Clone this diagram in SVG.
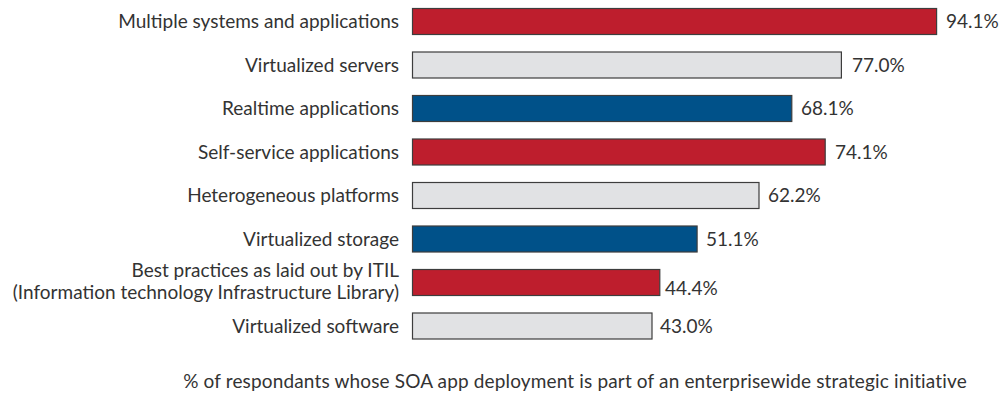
<svg xmlns="http://www.w3.org/2000/svg" width="1000" height="398" viewBox="0 0 1000 398">
  <style>
    text { font-family: Lato, "Open Sans", "Liberation Sans", sans-serif; font-size: 19px; fill: #333333; }
    .cat { text-anchor: end; }
    .val { text-anchor: start; }
    .bar { stroke: #3d3d3d; stroke-width: 1.2; }
    .red { fill: #be1e2d; }
    .gray { fill: #e1e2e4; }
    .blue { fill: #005189; }
    .caption { text-anchor: middle; letter-spacing: 0.15px; }
  </style>
  <rect width="1000" height="398" fill="#ffffff"/>

  <!-- bars: x starts at 412.5, 5.57 px per percent, 43.5 px pitch -->
  <g id="row-multiple-systems">
    <text class="cat" x="399" y="28">Multiple systems and applications</text>
    <rect class="bar red" x="412.5" y="8.5" width="524.1" height="26"/>
    <text class="val" x="946" y="28">94.1%</text>
  </g>
  <g id="row-virtualized-servers">
    <text class="cat" x="399" y="71.5">Virtualized servers</text>
    <rect class="bar gray" x="412.5" y="52" width="428.9" height="26"/>
    <text class="val" x="852" y="71.5">77.0%</text>
  </g>
  <g id="row-realtime">
    <text class="cat" x="399" y="115">Realtime applications</text>
    <rect class="bar blue" x="412.5" y="95.5" width="379.3" height="26"/>
    <text class="val" x="801" y="115">68.1%</text>
  </g>
  <g id="row-self-service">
    <text class="cat" x="399" y="158.5">Self-service applications</text>
    <rect class="bar red" x="412.5" y="139" width="412.7" height="26"/>
    <text class="val" x="835" y="158.5">74.1%</text>
  </g>
  <g id="row-heterogeneous">
    <text class="cat" x="399" y="202">Heterogeneous platforms</text>
    <rect class="bar gray" x="412.5" y="182.5" width="346.5" height="26"/>
    <text class="val" x="768" y="202">62.2%</text>
  </g>
  <g id="row-virtualized-storage">
    <text class="cat" x="399" y="245.5">Virtualized storage</text>
    <rect class="bar blue" x="412.5" y="226" width="284.6" height="26"/>
    <text class="val" x="706" y="245.5">51.1%</text>
  </g>
  <g id="row-itil">
    <text class="cat" x="399" y="277">Best practices as laid out by ITIL</text>
    <text class="cat" x="399" y="299">(Information technology Infrastructure Library)</text>
    <rect class="bar red" x="412.5" y="269.5" width="247.3" height="26"/>
    <text class="val" x="665" y="294.5">44.4%</text>
  </g>
  <g id="row-virtualized-software">
    <text class="cat" x="399" y="332.5">Virtualized software</text>
    <rect class="bar gray" x="412.5" y="313" width="239.5" height="26"/>
    <text class="val" x="660" y="332.5">43.0%</text>
  </g>

  <text class="caption" x="575" y="388">% of respondants whose SOA app deployment is part of an enterprisewide strategic initiative</text>
</svg>
